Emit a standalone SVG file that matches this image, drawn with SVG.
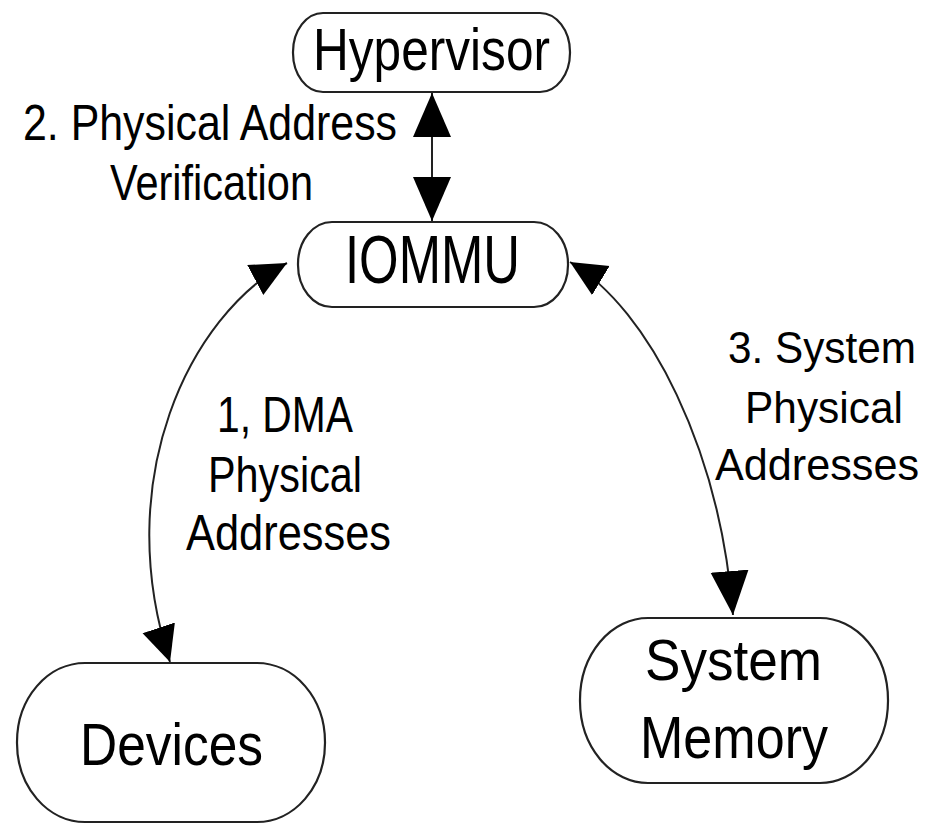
<svg xmlns="http://www.w3.org/2000/svg" width="932" height="825" viewBox="0 0 932 825">
<style>
.box{fill:#fff;stroke:#222;stroke-width:2.2}
.t{font-family:"Liberation Sans",Arial,sans-serif;fill:#000}
.n{font-size:60px}
.l{font-size:50px}
.r{font-size:45px}
.c{fill:none;stroke:#222;stroke-width:2}
</style>
<defs>
<marker id="big" markerUnits="userSpaceOnUse" markerWidth="46" markerHeight="40" refX="44" refY="19" orient="auto-start-reverse" viewBox="0 0 46 40">
<path d="M0,0 L44,19 L0,38 Z" fill="#000"/>
</marker>
<marker id="med" markerUnits="userSpaceOnUse" markerWidth="38" markerHeight="36" refX="36" refY="17" orient="auto-start-reverse" viewBox="0 0 38 36">
<path d="M0,0 L36,17 L0,34 Z" fill="#000"/>
</marker>
</defs>
<rect width="932" height="825" fill="#fff"/>
<g id="connectors">
<line class="c" x1="432" y1="93" x2="432" y2="221" marker-start="url(#big)" marker-end="url(#big)"/>
<path class="c" d="M287,263 C190,315 110,480 170,662" marker-start="url(#med)" marker-end="url(#med)"/>
<path class="c" d="M570,262 C650,310 720,450 733,615" marker-start="url(#med)" marker-end="url(#big)"/>
</g>
<g id="hypervisor">
<rect class="box" x="293" y="13" width="277" height="79" rx="30" ry="39"/>
<text class="t n" x="313" y="70" textLength="237" lengthAdjust="spacingAndGlyphs">Hypervisor</text>
</g>
<g id="iommu">
<rect class="box" x="298" y="222" width="270" height="85" rx="34" ry="42"/>
<text class="t" font-size="68" x="345" y="283" textLength="175" lengthAdjust="spacingAndGlyphs">IOMMU</text>
</g>
<g id="devices">
<rect class="box" x="17" y="663" width="308" height="159" rx="68" ry="79"/>
<text class="t n" x="80" y="765" textLength="183" lengthAdjust="spacingAndGlyphs">Devices</text>
</g>
<g id="system-memory">
<rect class="box" x="580" y="618" width="308" height="165" rx="68" ry="82"/>
<text class="t" font-size="58" x="645" y="680" textLength="177" lengthAdjust="spacingAndGlyphs">System</text>
<text class="t n" x="640" y="758" textLength="188" lengthAdjust="spacingAndGlyphs">Memory</text>
</g>
<g id="labels">
<text class="t l" x="23" y="140" textLength="374" lengthAdjust="spacingAndGlyphs">2. Physical Address</text>
<text class="t l" x="110" y="200" textLength="203" lengthAdjust="spacingAndGlyphs">Verification</text>
<text class="t l" x="217" y="432" textLength="136" lengthAdjust="spacingAndGlyphs">1, DMA</text>
<text class="t l" x="208" y="492" textLength="154" lengthAdjust="spacingAndGlyphs">Physical</text>
<text class="t l" x="186" y="550" textLength="205" lengthAdjust="spacingAndGlyphs">Addresses</text>
<text class="t r" x="728" y="363" textLength="188" lengthAdjust="spacingAndGlyphs">3. System</text>
<text class="t r" x="745" y="423" textLength="158" lengthAdjust="spacingAndGlyphs">Physical</text>
<text class="t r" x="715" y="480" textLength="204" lengthAdjust="spacingAndGlyphs">Addresses</text>
</g>
</svg>
